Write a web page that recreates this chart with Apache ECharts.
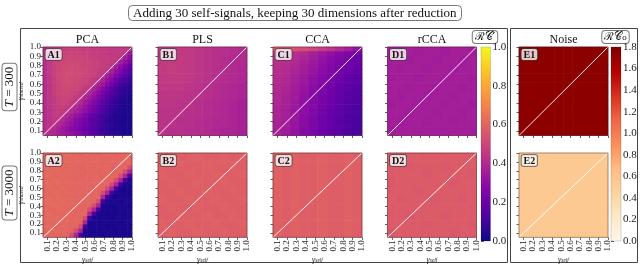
<!DOCTYPE html>
<html><head><meta charset="utf-8">
<script src="https://cdn.jsdelivr.net/npm/echarts@6/dist/echarts.min.js"></script>
<style>html,body{margin:0;padding:0;background:#fff}#c{width:640px;height:265px}</style>
</head><body><div id="c"></div>
<script>
// ---------------- data ----------------
const titleText = 'Adding 30 self-signals, keeping 30 dimensions after reduction';
const methods = ['PCA', 'PLS', 'CCA', 'rCCA', 'Noise'];
const rowT = ['300', '3000'];
const tickLabels = [0.1, 0.2, 0.3, 0.4, 0.5, 0.6, 0.7, 0.8, 0.9, 1.0];
const axisMin = 0.05, axisMax = 1.0;
const rcMax = 1.0, rc0Max = 1.8;
const plasma = ['#0d0887','#41049d','#6a00a8','#8f0da4','#b12a90','#cc4778','#e16462','#f2844b','#fca636','#fcce25','#f0f921'];
const orrd = ['#fff7ec','#fee8c8','#fdd49e','#fdbb84','#fc8d59','#ef6548','#d7301f','#b30000','#7f0000'];

// rows listed top (gamma_shared = 1.0) to bottom; columns gamma_self 0.05 -> 1.0
const A1 = [
[0.41,0.45,0.46,0.47,0.47,0.48,0.48,0.48,0.47,0.47,0.47,0.46,0.46,0.46,0.46,0.45,0.45,0.45,0.45,0.44],
[0.41,0.44,0.47,0.48,0.49,0.49,0.50,0.49,0.49,0.48,0.48,0.47,0.47,0.47,0.46,0.46,0.46,0.46,0.44,0.34],
[0.42,0.45,0.47,0.48,0.49,0.50,0.50,0.50,0.49,0.49,0.48,0.48,0.47,0.47,0.47,0.46,0.46,0.44,0.35,0.29],
[0.42,0.45,0.48,0.49,0.50,0.51,0.51,0.50,0.50,0.49,0.49,0.48,0.48,0.47,0.47,0.46,0.44,0.36,0.30,0.24],
[0.42,0.45,0.48,0.50,0.51,0.51,0.52,0.51,0.50,0.50,0.49,0.48,0.48,0.47,0.46,0.44,0.36,0.30,0.24,0.18],
[0.42,0.45,0.48,0.50,0.51,0.52,0.52,0.51,0.51,0.50,0.49,0.48,0.47,0.46,0.44,0.37,0.31,0.25,0.20,0.15],
[0.42,0.44,0.48,0.50,0.51,0.52,0.52,0.51,0.51,0.50,0.49,0.48,0.46,0.44,0.37,0.32,0.26,0.21,0.16,0.12],
[0.41,0.44,0.47,0.50,0.51,0.52,0.51,0.51,0.50,0.49,0.48,0.46,0.44,0.38,0.32,0.27,0.21,0.16,0.12,0.09],
[0.41,0.44,0.47,0.49,0.51,0.51,0.51,0.50,0.49,0.48,0.46,0.44,0.38,0.33,0.27,0.22,0.17,0.12,0.09,0.07],
[0.41,0.44,0.47,0.49,0.50,0.51,0.50,0.50,0.48,0.46,0.44,0.38,0.33,0.28,0.22,0.17,0.12,0.08,0.06,0.05],
[0.41,0.44,0.47,0.49,0.50,0.50,0.49,0.48,0.46,0.44,0.39,0.34,0.29,0.24,0.19,0.15,0.11,0.08,0.06,0.05],
[0.41,0.44,0.46,0.48,0.49,0.49,0.48,0.46,0.44,0.39,0.35,0.30,0.25,0.21,0.16,0.12,0.09,0.06,0.05,0.04],
[0.41,0.44,0.46,0.48,0.49,0.48,0.46,0.44,0.40,0.35,0.31,0.26,0.22,0.17,0.13,0.09,0.07,0.05,0.04,0.03],
[0.41,0.44,0.46,0.47,0.48,0.46,0.44,0.40,0.36,0.32,0.27,0.23,0.19,0.15,0.11,0.08,0.06,0.04,0.03,0.03],
[0.41,0.43,0.45,0.47,0.46,0.44,0.40,0.37,0.34,0.30,0.26,0.22,0.18,0.14,0.10,0.07,0.05,0.04,0.03,0.03],
[0.41,0.43,0.45,0.46,0.44,0.40,0.36,0.32,0.29,0.25,0.21,0.18,0.14,0.11,0.08,0.06,0.04,0.03,0.03,0.03],
[0.41,0.43,0.45,0.44,0.40,0.36,0.33,0.29,0.26,0.23,0.19,0.16,0.13,0.10,0.07,0.05,0.04,0.03,0.03,0.03],
[0.41,0.43,0.44,0.40,0.37,0.34,0.31,0.28,0.25,0.22,0.19,0.16,0.13,0.10,0.08,0.06,0.04,0.03,0.03,0.03],
[0.41,0.43,0.40,0.37,0.34,0.31,0.28,0.26,0.23,0.20,0.17,0.14,0.11,0.09,0.07,0.05,0.04,0.03,0.03,0.03],
[0.42,0.41,0.39,0.37,0.35,0.33,0.31,0.28,0.25,0.22,0.19,0.16,0.13,0.10,0.08,0.06,0.05,0.04,0.03,0.03]
];
const B1 = [
[0.46,0.46,0.45,0.45,0.44,0.43,0.42,0.42,0.41,0.40],
[0.46,0.46,0.46,0.45,0.44,0.43,0.42,0.41,0.40,0.40],
[0.46,0.47,0.46,0.45,0.44,0.43,0.42,0.41,0.40,0.39],
[0.45,0.46,0.46,0.45,0.44,0.43,0.42,0.41,0.40,0.39],
[0.45,0.45,0.45,0.44,0.43,0.42,0.41,0.40,0.39,0.38],
[0.44,0.44,0.44,0.43,0.43,0.42,0.41,0.40,0.39,0.38],
[0.44,0.44,0.43,0.43,0.42,0.41,0.40,0.39,0.38,0.37],
[0.43,0.43,0.43,0.42,0.42,0.41,0.40,0.39,0.38,0.37],
[0.43,0.43,0.42,0.42,0.41,0.40,0.39,0.39,0.38,0.37],
[0.43,0.42,0.42,0.41,0.41,0.40,0.39,0.38,0.38,0.37]
];
const C1 = [
[0.55,0.55,0.54,0.52,0.50,0.47,0.44,0.40,0.36,0.32],
[0.44,0.43,0.42,0.40,0.37,0.34,0.31,0.28,0.25,0.23],
[0.43,0.42,0.41,0.38,0.35,0.32,0.29,0.26,0.23,0.21],
[0.42,0.42,0.40,0.37,0.34,0.31,0.28,0.25,0.22,0.20],
[0.42,0.41,0.39,0.36,0.33,0.30,0.27,0.24,0.21,0.19],
[0.41,0.40,0.38,0.35,0.32,0.29,0.26,0.23,0.20,0.18],
[0.41,0.40,0.37,0.34,0.31,0.28,0.25,0.22,0.19,0.17],
[0.40,0.39,0.37,0.34,0.30,0.27,0.24,0.21,0.18,0.16],
[0.40,0.39,0.36,0.33,0.30,0.26,0.23,0.20,0.17,0.16],
[0.40,0.38,0.36,0.32,0.29,0.26,0.22,0.19,0.17,0.15],
[0.39,0.38,0.35,0.32,0.28,0.25,0.22,0.19,0.16,0.15],
[0.39,0.37,0.35,0.31,0.28,0.24,0.21,0.18,0.16,0.14],
[0.39,0.37,0.34,0.31,0.27,0.24,0.21,0.18,0.15,0.14],
[0.38,0.37,0.34,0.30,0.27,0.23,0.20,0.17,0.15,0.13],
[0.38,0.36,0.33,0.30,0.26,0.23,0.20,0.17,0.15,0.13],
[0.38,0.36,0.33,0.29,0.26,0.22,0.19,0.17,0.14,0.13],
[0.38,0.36,0.33,0.29,0.25,0.22,0.19,0.16,0.14,0.13],
[0.37,0.36,0.32,0.29,0.25,0.22,0.19,0.16,0.14,0.12],
[0.37,0.35,0.32,0.28,0.25,0.21,0.18,0.16,0.14,0.12],
[0.37,0.35,0.32,0.28,0.25,0.21,0.18,0.16,0.14,0.12]
];
const D1 = [
[0.36,0.36,0.36,0.35,0.36,0.36,0.35,0.36,0.36,0.35],
[0.36,0.36,0.35,0.36,0.36,0.35,0.36,0.36,0.35,0.36],
[0.36,0.35,0.36,0.36,0.35,0.36,0.36,0.35,0.36,0.36],
[0.35,0.36,0.36,0.35,0.36,0.36,0.35,0.36,0.36,0.35],
[0.36,0.36,0.35,0.36,0.36,0.35,0.36,0.36,0.35,0.36],
[0.36,0.35,0.36,0.36,0.35,0.36,0.36,0.35,0.36,0.36],
[0.35,0.36,0.36,0.35,0.36,0.36,0.35,0.36,0.36,0.35],
[0.36,0.36,0.35,0.36,0.36,0.35,0.36,0.36,0.35,0.36],
[0.36,0.35,0.36,0.36,0.35,0.36,0.36,0.35,0.36,0.36],
[0.35,0.36,0.36,0.35,0.36,0.36,0.35,0.36,0.36,0.35]
];
const E1 = [
[1.74,1.75,1.74,1.74,1.75,1.74,1.74,1.75,1.74,1.74],
[1.74,1.74,1.75,1.74,1.74,1.75,1.74,1.74,1.75,1.74],
[1.75,1.74,1.74,1.75,1.74,1.74,1.75,1.74,1.74,1.75],
[1.74,1.75,1.74,1.74,1.75,1.74,1.74,1.75,1.74,1.74],
[1.74,1.74,1.75,1.74,1.74,1.75,1.74,1.74,1.75,1.74],
[1.75,1.74,1.74,1.75,1.74,1.74,1.75,1.74,1.74,1.75],
[1.74,1.75,1.74,1.74,1.75,1.74,1.74,1.75,1.74,1.74],
[1.74,1.74,1.75,1.74,1.74,1.75,1.74,1.74,1.75,1.74],
[1.75,1.74,1.74,1.75,1.74,1.74,1.75,1.74,1.74,1.75],
[1.74,1.75,1.74,1.74,1.75,1.74,1.74,1.75,1.74,1.74]
];
const A2 = [
[0.60,0.62,0.61,0.62,0.61,0.62,0.61,0.61,0.60,0.61,0.61,0.61,0.60,0.61,0.61,0.61,0.60,0.61,0.61,0.61],
[0.61,0.62,0.61,0.61,0.62,0.61,0.61,0.62,0.61,0.61,0.60,0.61,0.61,0.61,0.60,0.61,0.61,0.61,0.60,0.60],
[0.60,0.62,0.62,0.61,0.61,0.62,0.61,0.61,0.61,0.60,0.61,0.61,0.61,0.60,0.61,0.61,0.60,0.61,0.60,0.61],
[0.61,0.61,0.62,0.62,0.61,0.61,0.62,0.61,0.60,0.61,0.61,0.60,0.61,0.61,0.61,0.60,0.61,0.60,0.61,0.52],
[0.60,0.62,0.61,0.62,0.61,0.62,0.61,0.61,0.61,0.60,0.61,0.61,0.60,0.61,0.61,0.61,0.60,0.61,0.52,0.38],
[0.61,0.62,0.61,0.61,0.62,0.61,0.61,0.61,0.60,0.61,0.61,0.61,0.61,0.60,0.61,0.61,0.61,0.52,0.38,0.12],
[0.60,0.61,0.62,0.62,0.61,0.62,0.61,0.60,0.61,0.61,0.60,0.61,0.61,0.61,0.60,0.61,0.52,0.38,0.12,0.03],
[0.61,0.62,0.61,0.62,0.61,0.61,0.62,0.61,0.61,0.60,0.61,0.61,0.60,0.61,0.61,0.52,0.38,0.12,0.03,0.03],
[0.60,0.62,0.61,0.61,0.62,0.61,0.61,0.61,0.60,0.61,0.61,0.60,0.61,0.61,0.52,0.38,0.12,0.03,0.02,0.03],
[0.61,0.61,0.62,0.62,0.61,0.62,0.61,0.61,0.61,0.61,0.60,0.61,0.61,0.52,0.38,0.12,0.03,0.03,0.03,0.02],
[0.60,0.62,0.61,0.62,0.61,0.61,0.61,0.60,0.61,0.60,0.61,0.61,0.61,0.38,0.12,0.03,0.02,0.03,0.03,0.03],
[0.61,0.62,0.61,0.61,0.62,0.61,0.62,0.61,0.60,0.61,0.61,0.61,0.52,0.12,0.03,0.03,0.03,0.02,0.03,0.03],
[0.60,0.62,0.62,0.62,0.61,0.62,0.61,0.61,0.61,0.60,0.61,0.52,0.38,0.03,0.03,0.02,0.03,0.03,0.03,0.02],
[0.61,0.61,0.61,0.62,0.62,0.61,0.61,0.61,0.60,0.61,0.52,0.38,0.12,0.03,0.03,0.03,0.02,0.03,0.03,0.03],
[0.60,0.62,0.61,0.61,0.61,0.62,0.61,0.60,0.61,0.61,0.38,0.12,0.03,0.03,0.02,0.03,0.03,0.03,0.02,0.03],
[0.61,0.62,0.62,0.62,0.61,0.61,0.61,0.61,0.61,0.52,0.12,0.03,0.03,0.03,0.03,0.02,0.03,0.03,0.03,0.03],
[0.60,0.61,0.61,0.62,0.61,0.62,0.60,0.61,0.60,0.38,0.03,0.03,0.02,0.03,0.03,0.03,0.03,0.02,0.03,0.03],
[0.61,0.62,0.61,0.61,0.62,0.61,0.61,0.60,0.52,0.12,0.03,0.03,0.03,0.03,0.02,0.03,0.03,0.03,0.03,0.02],
[0.60,0.61,0.62,0.62,0.61,0.61,0.60,0.52,0.38,0.03,0.03,0.02,0.03,0.03,0.03,0.03,0.02,0.03,0.03,0.03],
[0.61,0.62,0.61,0.61,0.61,0.60,0.52,0.38,0.12,0.03,0.03,0.03,0.03,0.02,0.03,0.03,0.03,0.03,0.03,0.03]
];
const B2 = [
[0.58,0.59,0.58,0.58,0.59,0.58,0.58,0.59,0.58,0.58],
[0.58,0.58,0.59,0.58,0.58,0.59,0.58,0.58,0.59,0.58],
[0.59,0.58,0.58,0.59,0.58,0.58,0.59,0.58,0.58,0.59],
[0.58,0.59,0.58,0.58,0.59,0.58,0.58,0.59,0.58,0.58],
[0.58,0.58,0.59,0.58,0.58,0.59,0.58,0.58,0.59,0.58],
[0.59,0.58,0.58,0.59,0.58,0.58,0.59,0.58,0.58,0.59],
[0.58,0.59,0.58,0.58,0.59,0.58,0.58,0.59,0.58,0.58],
[0.58,0.58,0.59,0.58,0.58,0.59,0.58,0.58,0.59,0.58],
[0.59,0.58,0.58,0.59,0.58,0.58,0.59,0.58,0.58,0.59],
[0.58,0.59,0.58,0.58,0.59,0.58,0.58,0.59,0.58,0.58]
];
const C2 = [
[0.59,0.58,0.59,0.58,0.58,0.59,0.58,0.58,0.59,0.58],
[0.59,0.58,0.59,0.58,0.58,0.59,0.58,0.58,0.59,0.58],
[0.59,0.58,0.59,0.58,0.58,0.59,0.58,0.58,0.59,0.58],
[0.59,0.58,0.59,0.58,0.58,0.59,0.58,0.58,0.59,0.58],
[0.59,0.58,0.59,0.58,0.58,0.59,0.58,0.58,0.59,0.58],
[0.59,0.58,0.59,0.58,0.58,0.59,0.58,0.58,0.59,0.58],
[0.59,0.58,0.59,0.58,0.58,0.59,0.58,0.58,0.59,0.58],
[0.59,0.58,0.59,0.58,0.58,0.59,0.58,0.58,0.59,0.58],
[0.59,0.58,0.59,0.58,0.58,0.59,0.58,0.58,0.59,0.58],
[0.59,0.58,0.59,0.58,0.58,0.59,0.58,0.58,0.59,0.58]
];
const D2 = [
[0.57,0.57,0.57,0.57,0.57,0.57,0.57,0.57,0.57,0.57],
[0.57,0.57,0.56,0.57,0.57,0.57,0.56,0.57,0.57,0.57],
[0.57,0.57,0.57,0.57,0.56,0.57,0.57,0.57,0.57,0.56],
[0.56,0.57,0.57,0.57,0.57,0.57,0.57,0.56,0.57,0.57],
[0.57,0.57,0.57,0.56,0.57,0.57,0.57,0.57,0.57,0.57],
[0.57,0.56,0.57,0.57,0.57,0.56,0.57,0.57,0.56,0.57],
[0.57,0.57,0.57,0.57,0.57,0.57,0.57,0.57,0.57,0.57],
[0.57,0.57,0.56,0.57,0.57,0.57,0.56,0.57,0.57,0.57],
[0.57,0.57,0.57,0.57,0.56,0.57,0.57,0.57,0.57,0.56],
[0.56,0.57,0.57,0.57,0.57,0.57,0.57,0.56,0.57,0.57]
];
const E2 = [
[0.55,0.55,0.55,0.55,0.55,0.55,0.55,0.55,0.55,0.55],
[0.55,0.56,0.55,0.55,0.55,0.56,0.55,0.55,0.55,0.55],
[0.55,0.55,0.55,0.56,0.55,0.55,0.55,0.55,0.56,0.55],
[0.55,0.55,0.55,0.55,0.55,0.55,0.56,0.55,0.55,0.55],
[0.56,0.55,0.55,0.55,0.55,0.55,0.55,0.55,0.55,0.56],
[0.55,0.55,0.56,0.55,0.55,0.55,0.55,0.56,0.55,0.55],
[0.55,0.55,0.55,0.55,0.56,0.55,0.55,0.55,0.55,0.55],
[0.55,0.56,0.55,0.55,0.55,0.55,0.55,0.55,0.56,0.55],
[0.55,0.55,0.55,0.55,0.55,0.56,0.55,0.55,0.55,0.55],
[0.55,0.55,0.55,0.56,0.55,0.55,0.55,0.55,0.55,0.56]
];

// ---------------- layout ----------------
const colLeft = [43, 158, 273, 387.5, 519];
const rowTop = [47, 153];
const PW = 89, PH = 88.5;
const SERIF = '"Liberation Serif","DejaVu Serif",serif';

const panels = [
  {id:'A1', d:A1, c:0, r:0}, {id:'B1', d:B1, c:1, r:0}, {id:'C1', d:C1, c:2, r:0}, {id:'D1', d:D1, c:3, r:0}, {id:'E1', d:E1, c:4, r:0},
  {id:'A2', d:A2, c:0, r:1}, {id:'B2', d:B2, c:1, r:1}, {id:'C2', d:C2, c:2, r:1}, {id:'D2', d:D2, c:3, r:1}, {id:'E2', d:E2, c:4, r:1}
];
panels.forEach(p => { const n = p.d[0].length; p.d.forEach((row, i) => { if (row.length !== n) throw new Error(p.id + ' row ' + i + ' has ' + row.length); }); });

const grids = [], xAxes = [], yAxes = [], series = [];
const tickStyle = {color: '#333', width: 0.8};
const subRich = {
  g: {fontFamily: SERIF, fontSize: 8, fontStyle: 'italic', color: '#222'},
  s: {fontFamily: SERIF, fontSize: 5.5, fontStyle: 'italic', color: '#222', padding: [3, 0, 0, 0]}
};

panels.forEach((p, i) => {
  grids.push({left: colLeft[p.c], top: rowTop[p.r], width: PW, height: PH, containLabel: false});
  const showX = p.r === 1, showY = p.c === 0;
  xAxes.push({
    type: 'value', gridIndex: i, min: axisMin, max: axisMax,
    axisLine: {show: false}, splitLine: {show: false},
    axisTick: {show: true, customValues: tickLabels, length: 2.5, lineStyle: tickStyle},
    axisLabel: {show: showX, customValues: tickLabels, rotate: 90, fontSize: 9, fontFamily: SERIF, color: '#222', margin: 3,
      formatter: v => v.toFixed(1)},
    name: showX ? '{g|γ}{s|self}' : '', nameLocation: 'middle', nameGap: 15,
    nameTextStyle: {rich: subRich}
  });
  yAxes.push({
    type: 'value', gridIndex: i, min: axisMin, max: axisMax,
    axisLine: {show: false}, splitLine: {show: false},
    axisTick: {show: true, customValues: tickLabels, length: 2.5, lineStyle: tickStyle},
    axisLabel: {show: showY, customValues: tickLabels, fontSize: 9, fontFamily: SERIF, color: '#222', margin: 2,
      formatter: v => v.toFixed(1)},
    name: showY ? '{g|γ}{s|shared}' : '', nameLocation: 'middle', nameGap: 18, nameRotate: 90,
    nameTextStyle: {rich: subRich}
  });
  const ny = p.d.length, nx = p.d[0].length;
  const dx = (axisMax - axisMin) / nx, dy = (axisMax - axisMin) / ny;
  const data = [];
  p.d.forEach((row, ri) => {
    const k = ny - 1 - ri;
    row.forEach((v, j) => data.push([axisMin + (j + 0.5) * dx, axisMin + (k + 0.5) * dy, v]));
  });
  series.push({
    type: 'custom', xAxisIndex: i, yAxisIndex: i, silent: true, data: data,
    renderItem: (params, api) => {
      const c = api.coord([api.value(0), api.value(1)]);
      const s = api.size([dx, dy]);
      return {type: 'rect', shape: {x: c[0] - s[0] / 2 - 0.3, y: c[1] - s[1] / 2 - 0.3, width: s[0] + 0.6, height: s[1] + 0.6},
        style: {fill: api.visual('color')}};
    }
  });
});

// frames, diagonals and panel letters
panels.forEach((p, i) => {
  series.push({
    type: 'custom', xAxisIndex: i, yAxisIndex: i, silent: true, data: [[axisMin, axisMin]], z: 5,
    renderItem: (params, api) => {
      const bl = api.coord([axisMin, axisMin]);
      const tr = api.coord([axisMax, axisMax]);
      return {type: 'group', children: [
        {type: 'line', shape: {x1: bl[0], y1: bl[1], x2: tr[0], y2: tr[1]}, style: {stroke: 'rgba(255,255,255,0.9)', lineWidth: 1}},
        {type: 'rect', shape: {x: bl[0], y: tr[1], width: tr[0] - bl[0], height: bl[1] - tr[1]},
          style: {fill: 'none', stroke: 'rgba(40,20,20,0.5)', lineWidth: 0.8}},
        {type: 'text', x: bl[0] + 2.5, y: tr[1] + 2,
          style: {text: p.id, font: 'bold 10px ' + SERIF, fill: '#111',
            backgroundColor: 'rgba(255,255,255,0.78)', borderColor: 'rgba(60,60,60,0.8)', borderWidth: 0.8, borderRadius: 2,
            padding: [1, 2, 0, 2]}}
      ]};
    }
  });
});

// colorbars
const cbars = [
  {left: 481, width: 9.5, max: rcMax, colors: plasma},
  {left: 611, width: 10, max: rc0Max, colors: orrd}
];
cbars.forEach((cb, ci) => {
  const gi = grids.length;
  grids.push({left: cb.left, top: 47, width: cb.width, height: 194});
  xAxes.push({type: 'value', gridIndex: gi, min: 0, max: 1, show: false});
  yAxes.push({type: 'value', gridIndex: gi, min: 0, max: cb.max, interval: 0.2, position: 'right',
    axisLine: {show: false}, splitLine: {show: false},
    axisTick: {show: true, length: 3, lineStyle: tickStyle},
    axisLabel: {fontSize: 11, fontFamily: SERIF, color: '#222', margin: 2, formatter: v => v.toFixed(1)}});
  const stops = cb.colors.map((c, k) => ({offset: k / (cb.colors.length - 1), color: c}));
  series.push({
    type: 'custom', xAxisIndex: gi, yAxisIndex: gi, silent: true, data: [[0, cb.max]],
    renderItem: (params, api) => {
      const p0 = api.coord([0, 0]);
      const p1 = api.coord([1, cb.max]);
      return {type: 'rect', shape: {x: p0[0], y: p1[1], width: p1[0] - p0[0], height: p0[1] - p1[1]},
        style: {fill: {type: 'linear', x: 0, y: 1, x2: 0, y2: 0, colorStops: stops}, stroke: 'rgba(0,0,0,0.3)', lineWidth: 0.5}};
    }
  });
});

// ---------------- graphics ----------------
const graphic = [
  {type: 'rect', shape: {x: 20.5, y: 28.5, width: 487, height: 234}, style: {fill: 'none', stroke: '#444', lineWidth: 1}},
  {type: 'rect', shape: {x: 510.5, y: 28.5, width: 127, height: 234}, style: {fill: 'none', stroke: '#444', lineWidth: 1}}
];
methods.forEach((m, c) => {
  graphic.push({type: 'text', x: colLeft[c] + PW / 2, y: 40,
    style: {text: m, font: '12px ' + SERIF, fill: '#111', align: 'center', verticalAlign: 'middle'}});
});
const rowCenters = [87, 193];
rowT.forEach((t, r) => {
  graphic.push({type: 'text', x: 9.5, y: rowCenters[r], rotation: Math.PI / 2,
    style: {text: '{i|T} = ' + t, font: '13px ' + SERIF, fill: '#111', align: 'center', verticalAlign: 'middle',
      rich: {i: {fontStyle: 'italic', font: 'italic 13px ' + SERIF}},
      backgroundColor: '#fff', borderColor: '#777', borderWidth: 1, borderRadius: 3, padding: [1, 3, 0, 3]}});
});
graphic.push({type: 'text', x: 485, y: 37,
  style: {text: 'ℛ𝒞′', font: '11px "DejaVu Serif",serif', fill: '#111', align: 'center', verticalAlign: 'middle',
    backgroundColor: '#fff', borderColor: '#777', borderWidth: 1, borderRadius: 3, padding: [1, 2, 0, 2]}});
graphic.push({type: 'text', x: 615.5, y: 37,
  style: {text: 'ℛ𝒞₀', font: '11px "DejaVu Serif",serif', fill: '#111', align: 'center', verticalAlign: 'middle',
    backgroundColor: '#fff', borderColor: '#777', borderWidth: 1, borderRadius: 3, padding: [1, 2, 0, 2]}});

const chart = echarts.init(document.getElementById('c'), null, {renderer: 'canvas'});
chart.setOption({
  animation: false,
  backgroundColor: '#fff',
  title: {text: titleText, left: 128, top: 5, padding: [2, 5, 1, 5], borderColor: '#777', borderWidth: 1, borderRadius: 4,
    textStyle: {fontFamily: SERIF, fontSize: 13, fontWeight: 'normal', color: '#111'}},
  grid: grids, xAxis: xAxes, yAxis: yAxes,
  visualMap: [
    {type: 'continuous', show: false, min: 0, max: rcMax, dimension: 2, seriesIndex: [0, 1, 2, 3, 5, 6, 7, 8], inRange: {color: plasma}},
    {type: 'continuous', show: false, min: 0, max: rc0Max, dimension: 2, seriesIndex: [4, 9], inRange: {color: orrd}}
  ],
  series: series,
  graphic: graphic
});
</script></body></html>
